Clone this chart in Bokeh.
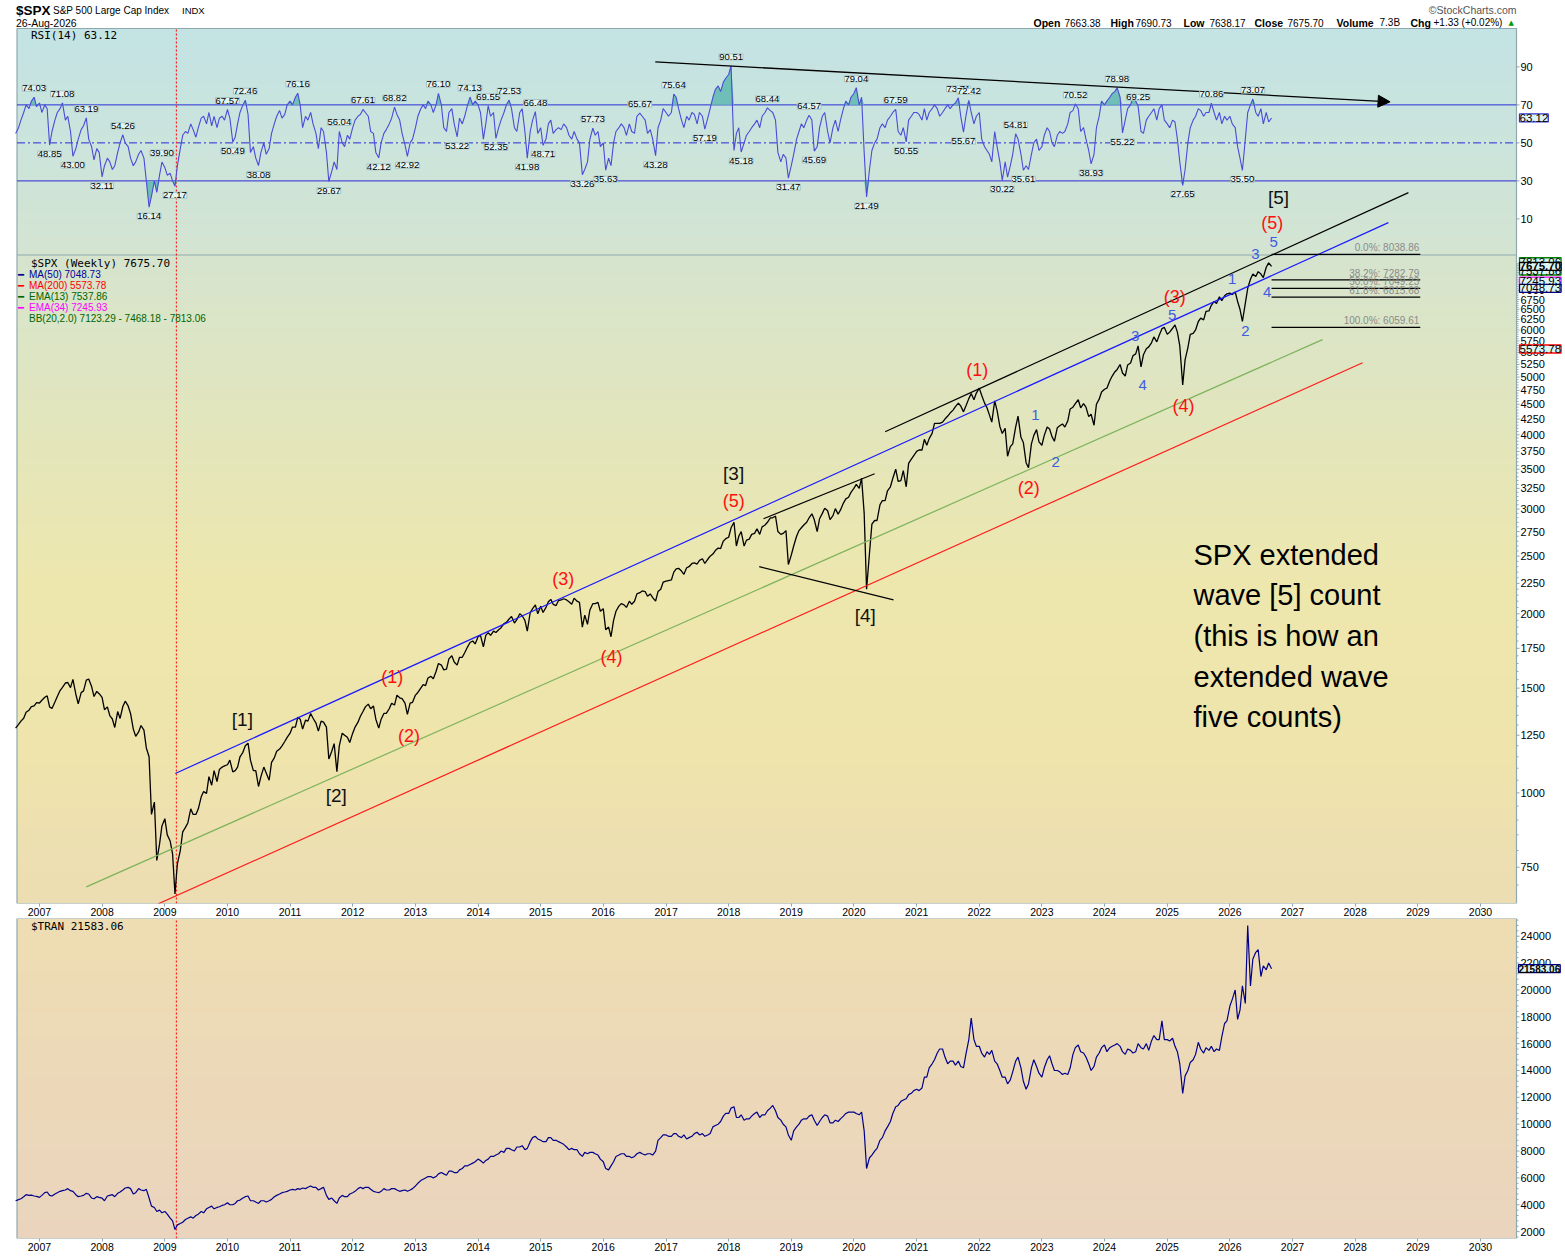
import numpy as np
import pandas as pd
from bokeh.plotting import figure
from bokeh.models import (Range1d, LinearScale, FixedTicker, DatetimeTickFormatter,
                          Label, LabelSet, ColumnDataSource, Arrow, NormalHead)
from bokeh.layouts import column
from bokeh.embed import file_html
from bokeh.resources import INLINE
from bokeh.core.properties import value

# ------------------------------------------------------------------ data
# semi-monthly samples (1st and 15th of each month)
sample_start, sample_end = "2006-08-15", "2026-09-01"

spx_close = [
    1285, 1304, 1320, 1335, 1366, 1377, 1396, 1400, 1418,                                   # 2006
    1416, 1431, 1448, 1456, 1395, 1386, 1421, 1452, 1486, 1505, 1530, 1533,
    1503, 1552, 1465, 1411, 1474, 1484, 1547, 1554, 1509, 1452, 1481, 1468,                 # 2007
    1447, 1380, 1395, 1349, 1331, 1288, 1370, 1334, 1397, 1426, 1400, 1360,
    1280, 1245, 1266, 1298, 1275, 1190, 1150, 920, 965, 770, 820, 880,                      # 2008
    905, 850, 830, 790, 676, 760, 800, 860, 875, 890, 940, 920,
    920, 940, 985, 1005, 998, 1065, 1030, 1090, 1045, 1095, 1105, 1110,                     # 2009
    1115, 1135, 1085, 1090, 1105, 1150, 1170, 1200, 1212, 1135, 1090, 1090,
    1025, 1065, 1105, 1080, 1050, 1125, 1145, 1175, 1185, 1200, 1220, 1240,                 # 2010
    1260, 1290, 1290, 1340, 1330, 1280, 1325, 1320, 1360, 1335, 1310, 1270,
    1320, 1315, 1290, 1140, 1175, 1210, 1085, 1200, 1260, 1250, 1240, 1215,                 # 2011
    1260, 1290, 1315, 1345, 1370, 1395, 1410, 1385, 1400, 1330, 1285, 1330,
    1360, 1360, 1385, 1415, 1405, 1460, 1445, 1440, 1415, 1355, 1415, 1420,                 # 2012
    1460, 1475, 1500, 1520, 1515, 1560, 1570, 1555, 1600, 1650, 1640, 1610,
    1615, 1680, 1700, 1660, 1640, 1690, 1690, 1720, 1760, 1790, 1800, 1780,                 # 2013
    1830, 1840, 1760, 1840, 1860, 1840, 1870, 1860, 1880, 1895, 1925, 1935,
    1960, 1980, 1930, 1955, 2000, 1985, 1950, 1870, 2010, 2040, 2070, 2000,                 # 2014
    2060, 2010, 2050, 2095, 2115, 2075, 2065, 2105, 2110, 2120, 2110, 2095,
    2075, 2125, 2100, 2090, 1900, 1990, 1920, 2030, 2080, 2080, 2090, 2020,                 # 2015
    2040, 1880, 1900, 1830, 1950, 2020, 2060, 2080, 2070, 2050, 2100, 2075,
    2100, 2160, 2170, 2185, 2180, 2140, 2160, 2130, 2100, 2180, 2200, 2260,                 # 2016
    2270, 2275, 2280, 2350, 2380, 2385, 2360, 2330, 2390, 2400, 2430, 2435,
    2425, 2460, 2475, 2430, 2470, 2500, 2520, 2555, 2580, 2575, 2650, 2675,                 # 2017
    2690, 2790, 2850, 2600, 2700, 2750, 2600, 2660, 2670, 2720, 2730, 2780,
    2720, 2800, 2820, 2850, 2900, 2900, 2920, 2750, 2720, 2730, 2760, 2420,                 # 2018
    2510, 2600, 2700, 2760, 2790, 2820, 2850, 2900, 2945, 2880, 2750, 2890,
    2950, 3010, 2980, 2880, 2925, 3005, 2940, 2990, 3070, 3120, 3140, 3200,                 # 2019
    3250, 3300, 3250, 3380, 2950, 2200, 2530, 2830, 2870, 2870, 3050, 3100,
    3100, 3220, 3270, 3380, 3500, 3340, 3350, 3480, 3270, 3580, 3640, 3690,                 # 2020
    3750, 3770, 3770, 3930, 3840, 3940, 4020, 4180, 4180, 4180, 4200, 4250,
    4300, 4350, 4400, 4460, 4520, 4470, 4370, 4470, 4600, 4690, 4580, 4700,                 # 2021
    4790, 4660, 4520, 4440, 4320, 4200, 4560, 4390, 4130, 4020, 4100, 3680,
    3820, 3860, 4120, 4300, 3960, 3880, 3590, 3520, 3860, 3990, 4080, 3890,                 # 2022
    3840, 3990, 4120, 4090, 3970, 3900, 4110, 4140, 4170, 4120, 4220, 4420,
    4450, 4510, 4580, 4440, 4510, 4450, 4290, 4330, 4150, 4500, 4590, 4720,                 # 2023
    4770, 4790, 4930, 5020, 5100, 5150, 5250, 5080, 5020, 5240, 5280, 5430,
    5470, 5640, 5200, 5450, 5580, 5620, 5710, 5840, 5730, 5880, 6030, 6060,                 # 2024
    5900, 5950, 6040, 6120, 5950, 5640, 4850, 5350, 5600, 5900, 5920, 6000,
    6200, 6280, 6240, 6450, 6460, 6600, 6700, 6650, 6820, 6720, 6850, 6900,                 # 2025
    6920, 6880, 6950, 6700, 6500, 6200, 6650, 7050, 7300, 7450, 7380, 7520,
    7450, 7350, 7650, 7780, 7675.70,                                                        # 2026
]

rsi_14 = [
    55, 58, 62, 66, 70, 68, 72, 74.03, 69,                                                  # 2006
    71, 66, 70, 68, 48.85, 56, 62, 66, 68, 71.08, 62, 64,
    56, 43.00, 47, 52, 57, 59, 63.19, 52, 48, 41, 47, 45,                                   # 2007
    32.11, 38, 42, 40, 36, 38, 45, 50, 54.26, 50, 48, 42,
    38, 40, 44, 46, 42, 30, 16.14, 22, 30, 24, 33, 39.90,                                   # 2008
    37, 33, 34, 30, 27.17, 38, 47, 54, 56, 55, 60, 57,
    53, 58, 63, 64, 60, 66, 59, 64, 58, 63, 64, 62,                                         # 2009
    67.57, 63, 50.49, 53, 60, 66, 70, 72.46, 65, 45, 48, 42,
    38.08, 45, 50, 44, 47, 55, 60, 64, 67, 63, 65, 70,                                      # 2010
    72, 70, 74, 76.16, 70, 58, 64, 62, 66, 60, 55, 47,
    58, 56, 45, 29.67, 35, 40, 36, 56.04, 50, 48, 54, 52,                                   # 2011
    58, 62, 64, 65, 67.61, 66, 64, 56, 55, 45, 42.12, 50,
    55, 57, 60, 63, 68.82, 65, 62, 55, 49, 42.92, 50, 52,                                   # 2012
    58, 64, 68, 70, 68, 72, 70, 66, 70, 76.10, 70, 58,
    56, 66, 68, 60, 53.22, 63, 60, 64, 70, 74.13, 70, 72,                                   # 2013
    70, 66, 52, 60, 69.55, 64, 66, 52.35, 58, 62, 66, 70,
    72.53, 68, 58, 56, 66, 68, 56, 41.98, 56, 62, 66.48, 55,                                # 2014
    58, 48.71, 52, 60, 62, 55, 57, 58, 57, 60, 58, 54,
    52, 56, 52, 50, 33.26, 36, 40, 52, 57.73, 54, 56, 48,                                   # 2015
    50, 35.63, 42, 38, 50, 56, 58, 60, 58, 54, 60, 56,
    55, 64, 65.67, 64, 62, 55, 57, 52, 43.28, 58, 62, 68,                                   # 2016
    66, 64, 66, 75.64, 74, 68, 62, 58, 64, 62, 66, 65,
    60, 66, 64, 57.19, 63, 68, 74, 78, 80, 77, 82, 84,                                      # 2017
    86, 90.51, 46, 55, 58, 45.18, 50, 54, 56, 58, 60, 62,
    58, 64, 66, 68.44, 67, 66, 62, 45, 40, 44, 42, 31.47,                                   # 2018
    38, 44, 52, 56, 60, 58, 62, 64.57, 62, 45.69, 48, 58,
    64, 66, 56, 50, 58, 62, 56, 62, 68, 72, 70, 74,                                         # 2019
    76, 79.04, 70, 74, 45, 21.49, 36, 46, 50, 52, 58, 60,
    58, 62, 64, 66, 67.59, 56, 54, 58, 50.55, 62, 64, 66,                                   # 2020
    66, 65, 62, 68, 62, 66, 68, 70, 68, 64, 66, 68,
    70, 68, 70, 71, 73.71, 64, 55.67, 64, 72.42, 66, 60, 64,                                # 2021
    66, 52, 48, 46, 44, 40, 56, 48, 40, 30.22, 40, 32,
    38, 44, 54.81, 52, 44, 35.61, 38, 36, 44, 50, 52, 46,                                   # 2022
    48, 54, 58, 56, 50, 48, 54, 56, 55, 56, 60, 66,
    67, 70.52, 68, 56, 58, 52, 46, 38.93, 44, 58, 64, 72,                                   # 2023
    70, 72, 74, 76, 77, 78.98, 74, 55.22, 62, 68, 70, 74,
    72, 69.25, 56, 55, 62, 64, 66, 68, 62, 68, 70, 62,                                      # 2024
    60, 58, 62, 61, 52, 40, 27.65, 36, 50, 58, 62, 64,
    68, 67, 64, 66, 66, 70.86, 66, 62, 66, 60, 64, 62,                                      # 2025
    64, 60, 58, 48, 42, 35.50, 52, 66, 70, 73.07, 66, 64,
    68, 60, 66, 61, 63.12,                                                                  # 2026
]

tran_close = [
    4300, 4380, 4450, 4600, 4750, 4700, 4720, 4650, 4620,                                   # 2006
    4550, 4700, 4900, 4950, 4700, 4650, 4800, 4900, 5000, 5050, 5100, 5200,
    5050, 5000, 4750, 4600, 4650, 4700, 4850, 4800, 4500, 4450, 4600, 4550,                 # 2007
    4500, 4300, 4650, 4700, 4750, 4600, 4850, 4950, 5100, 5250, 5300, 5200,
    4800, 4900, 5200, 5100, 5050, 5150, 4500, 3900, 3800, 3500, 3600, 3400,                 # 2008
    3500, 3300, 3000, 2800, 2150, 2500, 2600, 2700, 2900, 3000, 3100, 3000,
    3200, 3300, 3500, 3400, 3700, 3800, 3900, 3700, 3800, 3850, 3950, 4000,                 # 2009
    4150, 4000, 4000, 4100, 4300, 4350, 4500, 4600, 4650, 4300, 4300, 4200,
    4100, 4300, 4300, 4200, 4300, 4400, 4600, 4700, 4800, 4900, 4950, 5000,                 # 2010
    5100, 5150, 5100, 5200, 5150, 5250, 5200, 5300, 5400, 5300, 5300, 5100,
    5200, 5300, 4700, 4400, 4500, 4300, 4100, 4500, 4700, 4600, 4600, 4800,                 # 2011
    4900, 5000, 5200, 5300, 5200, 5300, 5300, 5150, 5000, 4950, 4900, 5000,
    5200, 5100, 5100, 5200, 5200, 5100, 5000, 5050, 5100, 5000, 5100, 5200,                 # 2012
    5400, 5600, 5800, 5900, 6000, 6100, 6100, 6000, 6100, 6300, 6400, 6300,
    6200, 6500, 6500, 6400, 6400, 6600, 6700, 6900, 6900, 7000, 7100, 7200,                 # 2013
    7400, 7300, 7100, 7300, 7400, 7600, 7600, 7700, 7800, 8000, 7900, 8200,
    8200, 8100, 8000, 8300, 8300, 8400, 8100, 8200, 8700, 9000, 9100, 8900,                 # 2014
    8800, 8700, 8700, 9000, 9000, 8800, 8800, 8700, 8600, 8500, 8300, 8100,
    8200, 8100, 8100, 7800, 7600, 7900, 7800, 7900, 7900, 7800, 7700, 7400,                 # 2015
    7200, 6700, 6600, 6900, 7200, 7600, 7700, 7800, 7800, 7600, 7600, 7500,
    7600, 7800, 7900, 7800, 7700, 7800, 7800, 7700, 8000, 8800, 9000, 9200,                 # 2016
    9200, 9100, 9100, 9300, 9300, 9100, 9000, 9200, 8900, 9000, 9100, 9300,
    9400, 9200, 9300, 9100, 9200, 9300, 9800, 9900, 10000, 10200, 10600, 10800,             # 2017
    10800, 11200, 11300, 10500, 10500, 10700, 10300, 10400, 10400, 10600, 10800, 10900,
    10500, 10700, 10700, 11000, 11200, 11400, 11000, 10500, 10300, 10000, 9800, 9200,       # 2018
    8800, 9500, 9800, 10000, 10300, 10400, 10400, 10600, 10700, 10300, 9900, 10200,
    10500, 10700, 10600, 10100, 10100, 10300, 10200, 10400, 10600, 10800, 10900, 10900,     # 2019
    10900, 10800, 10700, 10900, 9500, 6700, 7500, 7700, 8000, 8200, 8800, 9000,
    9500, 9800, 10200, 10800, 11300, 11400, 11700, 11800, 11900, 12200, 12300, 12500,      # 2020
    12600, 12500, 12700, 13500, 13500, 14200, 14500, 14800, 15300, 15600, 15600, 15000,
    14500, 14700, 14700, 14400, 14700, 14300, 14200, 15200, 16300, 17900, 16300, 15800,     # 2021
    15800, 15300, 15000, 15400, 15200, 15500, 14700, 14500, 14000, 13500, 13500, 13000,
    13300, 13900, 14700, 15000, 14200, 13200, 12600, 13000, 14200, 14800, 14300, 13800,     # 2022
    13500, 14200, 14800, 15100, 14500, 14000, 14000, 13900, 13700, 13800, 13700, 14200,
    15200, 15700, 15900, 15400, 15300, 15000, 14500, 14000, 14300, 15000, 15300, 15700,     # 2023
    15900, 15400, 15700, 15800, 15900, 16000, 15800, 15400, 15200, 15600, 15500, 15300,
    15400, 16000, 15700, 15600, 16000, 15500, 16200, 16600, 16300, 16300, 17700, 16300,     # 2024
    16300, 16200, 16400, 15800, 15400, 14500, 12300, 13600, 14000, 14600, 14800, 15200,
    16100, 15600, 15300, 15700, 15500, 15800, 15400, 15600, 15500, 16500, 17500, 17700,     # 2025
    18800, 19300, 20000, 17800, 18500, 20300, 19000, 24800, 20300, 22300, 22800, 23000,
    21000, 21800, 21500, 22000, 21583.06,                                                   # 2026
]

# labelled RSI peaks / troughs
rsi_peak_dates = ["2006-12-01", "2007-05-15", "2007-10-01", "2008-05-01", "2008-12-15", "2010-01-01",
                  "2010-04-15", "2011-02-15", "2011-10-15", "2012-03-01", "2012-09-01", "2013-05-15",
                  "2013-11-15", "2014-03-01", "2014-07-01", "2014-12-01", "2015-11-01", "2016-08-01",
                  "2017-02-15", "2018-01-15", "2018-08-15", "2019-04-15", "2020-01-15", "2020-09-01",
                  "2021-09-01", "2021-11-01", "2022-08-01", "2023-07-15", "2024-03-15", "2024-07-15",
                  "2025-09-15", "2026-05-15"]
rsi_peak_vals = [74.03, 71.08, 63.19, 54.26, 39.90, 67.57, 72.46, 76.16, 56.04, 67.61, 68.82, 76.10,
                 74.13, 69.55, 72.53, 66.48, 57.73, 65.67, 75.64, 90.51, 68.44, 64.57, 79.04, 67.59,
                 73.71, 72.42, 54.81, 70.52, 78.98, 69.25, 70.86, 73.07]
rsi_trough_dates = ["2007-03-01", "2007-07-15", "2008-01-01", "2008-10-01", "2009-03-01", "2010-02-01",
                    "2010-07-01", "2011-08-15", "2012-06-01", "2012-11-15", "2013-09-01", "2014-04-15",
                    "2014-10-15", "2015-01-15", "2015-09-01", "2016-01-15", "2016-11-01", "2017-08-15",
                    "2018-03-15", "2018-12-15", "2019-05-15", "2020-03-15", "2020-11-01", "2021-10-01",
                    "2022-05-15", "2022-09-15", "2023-10-15", "2024-04-15", "2025-04-01", "2026-03-15"]
rsi_trough_vals = [48.85, 43.00, 32.11, 16.14, 27.17, 50.49, 38.08, 29.67, 42.12, 42.92, 53.22, 52.35,
                   41.98, 48.71, 33.26, 35.63, 43.28, 57.19, 45.18, 31.47, 45.69, 21.49, 50.55, 55.67,
                   30.22, 35.61, 38.93, 55.22, 27.65, 35.50]

# Elliott wave annotations
wave_text = ["[1]", "[2]", "[3]", "(5)", "[4]", "[5]", "(5)", "5", "3", "1", "4", "2", "(3)", "5", "3",
             "4", "(4)", "(1)", "1", "2", "(2)", "(1)", "(2)", "(3)", "(4)"]
wave_date = ["2010-03-29", "2011-09-27", "2018-01-30", "2018-01-30", "2020-03-07", "2026-10-12",
             "2026-09-05", "2026-09-13", "2026-05-30", "2026-01-15", "2026-08-07", "2026-04-01",
             "2025-02-14", "2025-01-30", "2024-06-28", "2024-08-11", "2025-04-05", "2021-12-20",
             "2022-11-24", "2023-03-22", "2022-10-16", "2012-08-18", "2012-11-24", "2015-05-12",
             "2016-02-18"]
wave_price = [1327, 988, 3440, 3097, 1990, 10000, 9090, 8440, 8060, 7320, 6960, 5980, 6825, 6364, 5869,
              4855, 4476, 5145, 4323, 3603, 3258, 1567, 1247, 2291, 1693]

# trend / channel lines
trend_start_date = ["2009-03-03", "2020-07-01", "2007-10-01", "2008-11-24", "2018-07-23", "2018-06-28"]
trend_start_price = [1078, 4047, 695, 651, 2890, 2400]
trend_end_date = ["2028-07-13", "2028-11-07", "2027-06-25", "2028-02-14", "2020-05-01", "2020-08-19"]
trend_end_price = [9090, 10210, 5780, 5286, 3440, 2111]
trend_color = ["#1a1aff", "#000000", "#7db35c", "#ff1a1a", "#000000", "#000000"]

rsi_trend_dates = ["2016-10-30", "2028-07-23"]
rsi_trend_vals = [92.6, 71.6]

fib_high, fib_low = 8038.86, 6059.61
fib_levels = [0.0, 0.382, 0.5, 0.618, 1.0]
fib_dates = ["2026-09-01", "2029-01-15"]

marker_date = "2009-03-09"

spx_last, ma50, ma200, ema13, ema34 = 7675.70, 7048.73, 5573.78, 7537.86, 7245.93
bb_lower, bb_mid, bb_upper = 7123.29, 7468.18, 7813.06
rsi_last, tran_last = 63.12, 21583.06
bar_open, bar_high, bar_low, bar_volume, bar_chg = 7663.38, 7690.73, 7638.17, "7.3B", "+1.33 (+0.02%)"

year_ticks = list(range(2007, 2031))
spx_ticks = [750] + list(range(1000, 7750, 250))
rsi_ticks = [10, 30, 50, 70, 90]
tran_ticks = list(range(2000, 26000, 2000))

# ------------------------------------------------------------------ layout constants (pixels)
PAGE_W = 1565
PANEL_L, PANEL_R = 16.5, 1516.0
HEAD_PX, RSI_PX, SPX_PX = 28.0, 226.5, 648.5
TRAN_PX = 320
x_start, x_end = "2006-08-23", "2030-07-30"      # dates at the panels' left / right edges
rsi_panel = (-9.0, 110.2)
spx_panel = (651.7, 8020.0)
tran_panel = (1487.0, 25320.0)

SANS = "Liberation Sans"
MONO = "DejaVu Sans Mono"
FRAME_COL = "#8fa9ae"


def ms(d):
    return pd.Timestamp(d).value / 1e6


X0, X1 = ms(x_start), ms(x_end)
ppm = (PANEL_R - PANEL_L) / (X1 - X0)           # pixels per millisecond
FX0 = X0 - PANEL_L / ppm
FX1 = X1 + (PAGE_W - PANEL_R) / ppm
TICK = 3 / ppm
MTICK = 2 / ppm

upp = (rsi_panel[1] - rsi_panel[0]) / RSI_PX     # rsi units per pixel
rsi_top = rsi_panel[1]
rsi_frame_hi = rsi_top + HEAD_PX * upp
rsi_frame_lo = rsi_panel[0] - SPX_PX * upp
lpp = np.log(spx_panel[1] / spx_panel[0]) / SPX_PX
spx_frame_lo = spx_panel[0]
spx_frame_hi = float(spx_panel[1] * np.exp(lpp * (RSI_PX + HEAD_PX)))
MAIN_H = int(round(HEAD_PX + RSI_PX + SPX_PX))

dates = pd.date_range(sample_start, sample_end, freq="SMS")
assert len(dates) == len(spx_close) == len(rsi_14) == len(tran_close), (
    len(dates), len(spx_close), len(rsi_14), len(tran_close))
rsi_arr = np.array(rsi_14, dtype=float)


def vgradient(stops, n=300):
    t = 1.0 - (np.arange(n) + 0.5) / n
    pos = [s[0] for s in stops]
    cols = np.array([s[1] for s in stops], dtype=float)
    img = np.zeros((n, 2), dtype=np.uint32)
    v = img.view(dtype=np.uint8).reshape((n, 2, 4))
    for c in range(3):
        col = np.interp(t, pos, cols[:, c]).round().astype(np.uint8)
        v[:, 0, c] = col
        v[:, 1, c] = col
    v[:, :, 3] = 255
    return img


fmt_all = {k: "%Y" for k in ["microseconds", "milliseconds", "seconds", "minsec", "minutes",
                             "hourmin", "hours", "days", "months", "years"]}
year_ms = [ms(f"{y}-01-01") for y in year_ticks]


def style_x(ax):
    ax.ticker = FixedTicker(ticks=year_ms)
    ax.formatter = DatetimeTickFormatter(**fmt_all)
    ax.major_label_text_font = SANS
    ax.major_label_text_font_size = "10.5px"
    ax.major_label_text_color = "black"
    ax.major_tick_in = 0
    ax.major_tick_out = 3
    ax.minor_tick_line_color = None
    ax.axis_line_color = None
    ax.major_tick_line_color = FRAME_COL
    ax.major_label_standoff = 1


def right_axis(fig, ticks, labels, minor, rng="default"):
    n = len(ticks)
    fig.segment(x0=[X1] * n, x1=[X1 + TICK] * n, y0=ticks, y1=ticks, y_range_name=rng,
                line_color=FRAME_COL, line_width=1)
    if minor:
        m = len(minor)
        fig.segment(x0=[X1] * m, x1=[X1 + MTICK] * m, y0=minor, y1=minor, y_range_name=rng,
                    line_color=FRAME_COL, line_width=1)
    fig.text(x=[X1] * n, y=ticks, text=labels, x_offset=4, y_range_name=rng,
             text_align="left", text_baseline="middle", text_font=value(SANS),
             text_font_size="11px", text_color="black")


def tag(fig, y, text, color, bold=False, rng="default", size="11.5px", xo=3):
    fig.add_layout(Label(x=X1, y=y, y_range_name=rng, x_offset=xo, text=text, text_align="left",
                         text_baseline="middle", text_font=SANS, text_font_size=size,
                         text_font_style="bold" if bold else "normal", text_color="black",
                         background_fill_color="#dcf5f5", background_fill_alpha=1.0,
                         border_line_color=color, border_line_width=1.3))


xrange = Range1d(FX0, FX1)

# ------------------------------------------------------------------ main figure (header + RSI + SPX)
main = figure(x_axis_type="datetime", y_axis_type="log", y_axis_location=None,
              x_range=xrange, y_range=Range1d(spx_frame_lo, spx_frame_hi),
              frame_width=PAGE_W, frame_height=MAIN_H,
              min_border_left=0, min_border_right=0, min_border_top=0, min_border_bottom=0,
              output_backend="svg", toolbar_location=None, title=None,
              background_fill_color="white", border_fill_color="white",
              outline_line_color=None)
main.extra_y_ranges = {"rsi": Range1d(rsi_frame_lo, rsi_frame_hi)}
main.extra_y_scales = {"rsi": LinearScale()}
main.xgrid.visible = False
main.ygrid.visible = False

main_grad = vgradient([(0.0, (195, 227, 228)), (0.13, (203, 228, 220)), (0.2589, (212, 228, 209)),
                       (0.26, (214, 228, 206)), (0.48, (228, 230, 186)), (0.65, (238, 231, 173)),
                       (0.83, (238, 228, 172)), (1.0, (237, 221, 179))])
main.image_rgba(image=[main_grad], x=X0, y=rsi_frame_lo, dw=X1 - X0, dh=rsi_top - rsi_frame_lo,
                y_range_name="rsi", level="image")

# panel outline and separator
main.quad(left=X0, right=X1, bottom=rsi_frame_lo, top=rsi_top, y_range_name="rsi",
          fill_color=None, line_color=FRAME_COL, line_width=1.2)
main.segment(x0=X0, x1=X1, y0=rsi_panel[0], y1=rsi_panel[0], y_range_name="rsi",
             line_color=FRAME_COL, line_width=1.2)

# RSI reference lines
for lv, dash in [(70, "solid"), (30, "solid"), (50, "8 3 2 3")]:
    main.segment(x0=X0, x1=X1, y0=lv, y1=lv, y_range_name="rsi",
                 line_color="#2b2bd6", line_width=1, line_dash=dash)

# red dotted marker
main.segment(x0=ms(marker_date), x1=ms(marker_date), y0=rsi_frame_lo, y1=rsi_top, y_range_name="rsi",
             line_color="#ff0000", line_width=1, line_dash="2 2")

# RSI fills & line
main.varea(x=dates, y1=70, y2=np.maximum(rsi_arr, 70), y_range_name="rsi",
           fill_color="#5fb8b2", fill_alpha=0.85)
main.varea(x=dates, y1=np.minimum(rsi_arr, 30), y2=30, y_range_name="rsi",
           fill_color="#5fb8b2", fill_alpha=0.85)
main.line(x=dates, y=rsi_arr, y_range_name="rsi", line_color="#4b4bd8", line_width=1.1)

# RSI trend arrow
main.add_layout(Arrow(end=NormalHead(size=12, fill_color="black", line_color="black"),
                      x_start=ms(rsi_trend_dates[0]), y_start=rsi_trend_vals[0],
                      x_end=ms(rsi_trend_dates[1]), y_end=rsi_trend_vals[1],
                      y_range_name="rsi", line_color="black", line_width=1.3))

# RSI value labels
peak_src = ColumnDataSource(dict(x=[ms(d) for d in rsi_peak_dates], y=rsi_peak_vals,
                                 t=[f"{v:.2f}" for v in rsi_peak_vals]))
trough_src = ColumnDataSource(dict(x=[ms(d) for d in rsi_trough_dates], y=rsi_trough_vals,
                                   t=[f"{v:.2f}" for v in rsi_trough_vals]))
for src, off, base in [(peak_src, 6, "bottom"), (trough_src, -6, "top")]:
    main.add_layout(LabelSet(x="x", y="y", text="t", source=src, y_range_name="rsi",
                             y_offset=off, text_align="center", text_baseline=base,
                             text_font=value(SANS), text_font_size="9.5px", text_color="black",
                             background_fill_color="#e2f5f5", background_fill_alpha=1.0,
                             border_line_color="#a6c3c5"))

# SPX price
main.line(x=dates, y=spx_close, line_color="black", line_width=1.3)

# trend lines
trend_src = ColumnDataSource(dict(x0=[ms(d) for d in trend_start_date], y0=trend_start_price,
                                  x1=[ms(d) for d in trend_end_date], y1=trend_end_price,
                                  c=trend_color))
main.segment(x0="x0", y0="y0", x1="x1", y1="y1", line_color="c", line_width=1.2, source=trend_src)

# fibonacci retracement
fib_prices = [fib_high - lv * (fib_high - fib_low) for lv in fib_levels]
fib_src = ColumnDataSource(dict(x0=[ms(fib_dates[0])] * len(fib_prices),
                                x1=[ms(fib_dates[1])] * len(fib_prices), y=fib_prices,
                                t=[f"{lv * 100:.1f}%: {p:.2f}" for lv, p in zip(fib_levels, fib_prices)]))
main.segment(x0="x0", y0="y", x1="x1", y1="y", line_color="black", line_width=1.2, source=fib_src)
main.add_layout(LabelSet(x="x1", y="y", text="t", source=fib_src, x_offset=-1, y_offset=1,
                         text_align="right", text_baseline="bottom", text_font=value(SANS),
                         text_font_size="10px", text_color="#8a8a8a"))

# wave labels
w_col, w_size = [], []
for t in wave_text:
    if t.startswith("["):
        w_col.append("#111111"); w_size.append("19px")
    elif t.startswith("("):
        w_col.append("#ff1010"); w_size.append("18px")
    else:
        w_col.append("#3d5ce0"); w_size.append("15px")
wave_src = ColumnDataSource(dict(x=[ms(d) for d in wave_date], y=wave_price, t=wave_text,
                                 wcol=w_col, wsize=w_size))
main.text(x="x", y="y", text="t", source=wave_src, text_color="wcol", text_font_size="wsize",
          text_align="center", text_baseline="middle", text_font=value(SANS))

# comment text
main.add_layout(Label(x=ms("2025-06-03"), y=2675,
                      text="SPX extended\nwave [5] count\n(this is how an\nextended wave\nfive counts)",
                      text_font=SANS, text_font_size="29px", text_color="black",
                      text_align="left", text_baseline="top", text_line_height=1.27))

# right axis (ticks drawn beside the panel edge)
right_axis(main, [float(t) for t in spx_ticks], [str(t) for t in spx_ticks],
           [float(v) for v in range(700, 7800, 50) if v not in spx_ticks])
right_axis(main, [float(r) for r in rsi_ticks], [str(r) for r in rsi_ticks], None, rng="rsi")

# legends
main.add_layout(Label(x=X0, y=rsi_top, y_range_name="rsi", x_offset=14, y_offset=-7,
                      text=f"RSI(14) {rsi_last:.2f}", text_font=MONO, text_font_size="11px",
                      text_baseline="middle", text_color="black"))
main.add_layout(Label(x=X0, y=spx_panel[1], x_offset=14, y_offset=-8,
                      text=f"$SPX (Weekly) {spx_last:.2f}", text_font=MONO, text_font_size="11px",
                      text_baseline="middle", text_color="black"))
leg = [(f"MA(50) {ma50:.2f}", "#000099", True),
       (f"MA(200) {ma200:.2f}", "#ff0000", True),
       (f"EMA(13) {ema13:.2f}", "#006600", True),
       (f"EMA(34) {ema34:.2f}", "#ff00ff", True),
       (f"BB(20,2.0) {bb_lower:.2f} - {bb_mid:.2f} - {bb_upper:.2f}", "#006600", False)]
for i, (txt, col, dash) in enumerate(leg):
    yo = -19 - 11 * i
    if dash:
        main.add_layout(Label(x=X0, y=spx_panel[1], x_offset=1, y_offset=yo, text="━",
                              text_font="DejaVu Sans", text_font_size="10px", text_color=col,
                              text_baseline="middle"))
    main.add_layout(Label(x=X0, y=spx_panel[1], x_offset=12, y_offset=yo, text=txt,
                          text_font=SANS, text_font_size="10px", text_color=col,
                          text_baseline="middle"))

# header
HY1, HY2 = -9.5, -22
main.add_layout(Label(x=X0, y=rsi_frame_hi, y_range_name="rsi", x_offset=-1, y_offset=HY1, text="$SPX",
                      text_font=SANS, text_font_size="13.5px", text_font_style="bold",
                      text_baseline="middle", text_color="black"))
main.add_layout(Label(x=X0, y=rsi_frame_hi, y_range_name="rsi", x_offset=36, y_offset=HY1,
                      text="S&P 500 Large Cap Index", text_font=SANS, text_font_size="10px",
                      text_baseline="middle", text_color="black"))
main.add_layout(Label(x=X0, y=rsi_frame_hi, y_range_name="rsi", x_offset=165, y_offset=HY1,
                      text="INDX", text_font=SANS, text_font_size="9.5px",
                      text_baseline="middle", text_color="black"))
main.add_layout(Label(x=X0, y=rsi_frame_hi, y_range_name="rsi", x_offset=-1, y_offset=HY2,
                      text="26-Aug-2026", text_font=SANS, text_font_size="10.5px",
                      text_baseline="middle", text_color="black"))
main.add_layout(Label(x=X1, y=rsi_frame_hi, y_range_name="rsi", x_offset=0, y_offset=HY1,
                      text="©StockCharts.com", text_font=SANS, text_font_size="10.5px",
                      text_align="right", text_baseline="middle", text_color="#555555"))
hdr = [("Open", -483, True), (f"{bar_open:.2f}", -452, False),
       ("High", -406, True), (f"{bar_high:.2f}", -381, False),
       ("Low", -333, True), (f"{bar_low:.2f}", -307, False),
       ("Close", -262, True), (f"{spx_last:.2f}", -229, False),
       ("Volume", -180, True), (bar_volume, -137, False),
       ("Chg", -106, True), (bar_chg, -83, False)]
for txt, xo, bold in hdr:
    main.add_layout(Label(x=X1, y=rsi_frame_hi, y_range_name="rsi", x_offset=xo, y_offset=HY2, text=txt,
                          text_font=SANS, text_font_size="10.5px" if bold else "10px",
                          text_font_style="bold" if bold else "normal",
                          text_baseline="middle", text_color="black"))
main.add_layout(Label(x=X1, y=rsi_frame_hi, y_range_name="rsi", x_offset=-8, y_offset=HY2, text="▲",
                      text_font="DejaVu Sans", text_font_size="7px", text_baseline="middle",
                      text_color="#009900"))

# value tags on the right edge
tag(main, bb_upper, f"{bb_upper:.2f}", "#008000")
tag(main, ema13, f"{ema13:.2f}", "#008000")
tag(main, ema34, f"{ema34:.2f}", "#ff00ff")
tag(main, ma50, f"{ma50:.2f}", "#000080")
tag(main, ma200, f"{ma200:.2f}", "#ff0000")
tag(main, spx_last, f"{spx_last:.2f}", "#000000", bold=True)
tag(main, rsi_last, f"{rsi_last:.2f}", "#3333cc", rng="rsi")

style_x(main.xaxis[0])

# ------------------------------------------------------------------ TRAN figure
tran = figure(x_axis_type="datetime", y_axis_location=None,
              x_range=xrange, y_range=Range1d(*tran_panel),
              frame_width=PAGE_W, frame_height=TRAN_PX,
              min_border_left=0, min_border_right=0, min_border_top=0, min_border_bottom=0,
              output_backend="svg", toolbar_location=None, title=None,
              background_fill_color="white", border_fill_color="white",
              outline_line_color=None)
tran.xgrid.visible = False
tran.ygrid.visible = False
tran_grad = vgradient([(0.0, (238, 221, 178)), (1.0, (234, 212, 190))])
tran.image_rgba(image=[tran_grad], x=X0, y=tran_panel[0], dw=X1 - X0, dh=tran_panel[1] - tran_panel[0],
                level="image")
tran.quad(left=X0, right=X1, bottom=tran_panel[0], top=tran_panel[1],
          fill_color=None, line_color=FRAME_COL, line_width=1.2)
tran.segment(x0=ms(marker_date), x1=ms(marker_date), y0=tran_panel[0], y1=tran_panel[1],
             line_color="#ff0000", line_width=1, line_dash="2 2")
tran.line(x=dates, y=tran_close, line_color="#00008b", line_width=1.2)
right_axis(tran, [float(t) for t in tran_ticks], [str(t) for t in tran_ticks],
           [float(v) for v in range(1600, 25400, 400) if v % 2000])
tran.add_layout(Label(x=X0, y=tran_panel[1], x_offset=14, y_offset=-8,
                      text=f"$TRAN {tran_last:.2f}", text_font=MONO, text_font_size="11px",
                      text_baseline="middle", text_color="black"))
tag(tran, tran_last, f"{tran_last:.2f}", "#000080", bold=True, size="10px", xo=2)
style_x(tran.xaxis[0])

layout = column(main, tran, spacing=0)
open("out.html", "w").write(file_html(layout, INLINE, title="SPX extended wave [5] count"))
